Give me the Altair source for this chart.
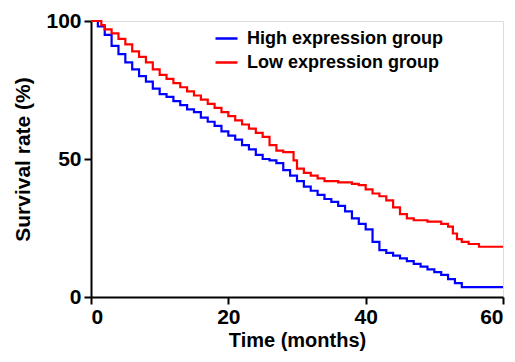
import altair as alt
import pandas as pd

high_t = [0, 1, 2, 3, 4, 5, 6, 7, 8, 9, 10, 11, 12, 13, 14, 15, 16, 17, 18, 19, 20,
          21, 22, 23, 24, 25, 26, 27, 28, 29, 30, 31, 32, 33, 34, 35, 36, 37, 38, 39,
          40, 41, 42, 43, 44, 45, 46, 47, 48, 49, 50, 51, 52, 53, 54, 60]
high_s = [100, 98, 95, 91, 88, 85, 82.5, 80, 78, 75.5, 73.5, 72.5, 71, 69.5, 68, 67,
          65, 63.5, 62, 60, 58.5, 57, 55, 53.5, 51.5, 50, 49.5, 48.5, 46, 44, 42, 40,
          38.5, 37, 35.5, 34.5, 33, 31, 28.5, 26.5, 24.5, 20, 17, 16, 15, 14, 13, 12,
          11, 10, 9, 8, 6.5, 5, 3.6, 3.6]

low_t = [0, 1.5, 2, 3, 4, 5, 6, 7, 8, 9, 10, 11, 12, 13, 14, 15, 16, 17, 18, 19, 20,
         21, 22, 23, 24, 25, 26, 27, 28, 29.5, 30, 31, 32, 33, 34, 36, 38, 39, 40, 41,
         42, 43, 44, 45, 46, 47, 49, 51, 52, 52.7, 53.3, 54, 55, 56.5, 60]
low_s = [100, 98.5, 97, 95.5, 93.5, 91.5, 89, 87, 85, 82.5, 80.5, 79, 77.5, 76, 74.5,
         73, 71.5, 70, 68.5, 67, 65.5, 64, 62.5, 61, 59.5, 58, 55, 53, 52.5, 49.5, 46.5,
         45, 44, 43, 42, 41.5, 41, 40.5, 39, 37.5, 36.5, 35, 32.5, 30, 28.5, 27.8, 27.3,
         26.5, 25.5, 23, 21, 20, 19.2, 18.2, 18.2]

groups = ["High expression group", "Low expression group"]
colors = ["#0000ff", "#ff0000"]

df = pd.concat([
    pd.DataFrame({"t": high_t, "s": high_s, "g": groups[0]}),
    pd.DataFrame({"t": low_t, "s": low_s, "g": groups[1]}),
])

FONT = "Liberation Sans"

chart = alt.Chart(df).mark_line(interpolate="step-after", strokeWidth=2.2).encode(
    x=alt.X("t:Q", scale=alt.Scale(domain=[0, 60], nice=False, zero=False),
            axis=alt.Axis(values=[0, 20, 40, 60], title="Time (months)", grid=False,
                          domainColor="black", domainWidth=2, tickColor="black",
                          tickWidth=2, tickSize=7, labelFont=FONT, labelFontSize=21,
                          labelFontWeight="bold", labelColor="black", labelPadding=2,
                          titleFont=FONT, titleFontSize=20, titleFontWeight="bold",
                          titleColor="black", titlePadding=3)),
    y=alt.Y("s:Q", scale=alt.Scale(domain=[0, 100], nice=False),
            axis=alt.Axis(values=[0, 50, 100], title="Survival rate (%)", grid=False,
                          domainColor="black", domainWidth=2, tickColor="black",
                          tickWidth=2, tickSize=7, labelFont=FONT, labelFontSize=21,
                          labelFontWeight="bold", labelColor="black", labelPadding=3,
                          titleFont=FONT, titleFontSize=21, titleFontWeight="bold",
                          titleColor="black", titlePadding=12)),
    color=alt.Color("g:N", scale=alt.Scale(domain=groups, range=colors),
                    legend=alt.Legend(title=None, orient="none", legendX=123, legendY=5,
                                      symbolType="stroke", symbolSize=484,
                                      symbolStrokeWidth=2.5, labelFont=FONT,
                                      labelFontSize=18, labelFontWeight="bold",
                                      labelColor="black", labelOffset=8, rowPadding=2,
                                      labelLimit=0, padding=0)),
).properties(
    width=412, height=276,
    autosize=alt.AutoSizeParams(type="none"),
    padding={"left": 83, "top": 13, "right": 4, "bottom": 57},
).configure_view(stroke=None).configure(background="white")

chart.save("out.html", embed_options={"renderer": "svg", "actions": False})
